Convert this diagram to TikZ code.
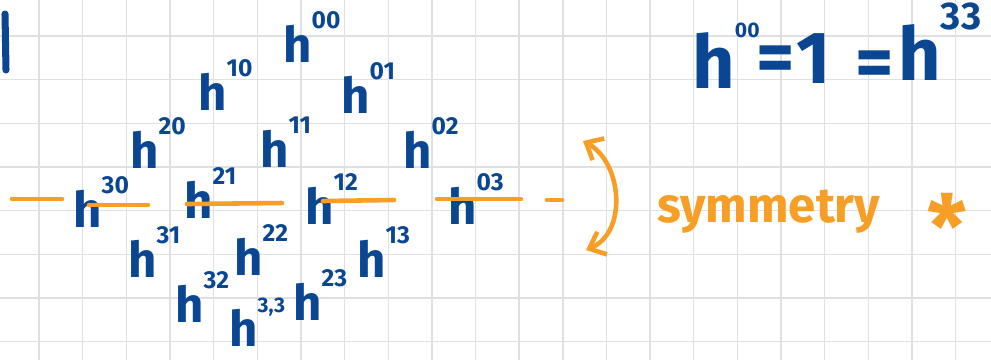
\documentclass[tikz,border=0pt]{standalone}
\usepackage{fontspec}
\setmainfont{Fira Sans}
\usepackage{xcolor}
\definecolor{inkblue}{RGB}{10,70,145}
\definecolor{inkorange}{RGB}{246,158,38}
\definecolor{paperline}{RGB}{224,224,224}
\usetikzlibrary{arrows.meta,positioning}
\newcommand{\hdg}[2][14]{h\raisebox{0.68em}{\fontsize{#1}{#1}\selectfont #2}}

\begin{document}
\begin{tikzpicture}[x=0.02cm,y=-0.02cm,
  hodge/.style={text=inkblue,font=\fontsize{28}{30}\selectfont\bfseries,inner sep=0pt,anchor=base west},
  big/.style={hodge,font=\fontsize{42}{44}\selectfont\bfseries},
  note/.style={text=inkorange,font=\fontsize{28}{30}\selectfont\bfseries,inner sep=0pt,anchor=base west},
  axis/.style={draw=inkorange,line width=2.6pt,line cap=round}
]
  \useasboundingbox (0,0) rectangle (991,360);
  % Squared paper
  \foreach \gx in {0,...,21} \draw[paperline,line width=0.8pt] ({39+43.65*\gx},0) -- ({39+43.65*\gx},360);
  \foreach \gy in {0,...,7} \draw[paperline,line width=0.8pt] (0,{36+43.65*\gy}) -- (991,{36+43.65*\gy});
  % Stray stroke at the margin
  \draw[inkblue,line width=4pt,line cap=round] (5,14) -- (6,70);
  % Row 0
  \node[hodge] (h00) at (283,62) {\hdg{00}};
  % Row 1
  \node[hodge] (h10) at (198,110) {\hdg{10}};
  \node[hodge] (h01) at (341,113) {\hdg{01}};
  % Row 2
  \node[hodge] (h20) at (130,168) {\hdg{20}};
  \node[hodge] (h11) at (260,167) {\hdg{11}};
  \node[hodge] (h02) at (403,168) {\hdg{02}};
  % Row 3
  \node[hodge] (h30) at (73,227) {\hdg{30}};
  \node[hodge] (h21) at (184,218) {\hdg{21}};
  \node[hodge] (h12) at (305,224) {\hdg{12}};
  \node[hodge] (h03) at (448,224) {\hdg{03}};
  % Row 4
  \node[hodge] (h31) at (128,277) {\hdg{31}};
  \node[hodge] (h22) at (234,275) {\hdg{22}};
  \node[hodge] (h13) at (357,277) {\hdg{13}};
  % Row 5
  \node[hodge] (h32) at (175,322) {\hdg{32}};
  \node[hodge] (h23) at (293,320) {\hdg{23}};
  % Row 6
  \node[hodge] (h33) at (229,346) {\hdg[12]{3,3}};
  % Symmetry axis through the middle row
  \draw[axis] (12,199) -- (62,199);
  \draw[axis] (89,205) -- (148,205);
  \draw[axis] (187,204) -- (282,203);
  \draw[axis] (323,201) -- (394,200);
  \draw[axis] (437,199) -- (521,199);
  \draw[axis] (547,200) -- (562,200);
  % Reflection arrow and note
  \coordinate (symtop) at (583,141);
  \coordinate (symbot) at (586,250);
  \draw[axis,{Straight Barb[length=8pt,width=14pt]}-{Straight Barb[length=8pt,width=14pt]}]
    (symtop) .. controls (622,162) and (628,232) .. (symbot);
  \node[note] (sym) at (657,222) {symmetry};
  \node[note,anchor=base,font=\fontsize{50}{52}\selectfont\bfseries] (star) at (947,258) {*};
  % h^00 = 1 = h^33
  \node[big] (lhs) at (692,88) {\hdg[12]{00}};
  \node[big,anchor=base] (eqa) at (776,82) {=};
  \node[big] (one) at (796,83) {1};
  \node[big,anchor=base] (eqb) at (875,87) {=};
  \node[big] (rhs) at (898,80) {\hdg[22]{33}};
\end{tikzpicture}
\end{document}
